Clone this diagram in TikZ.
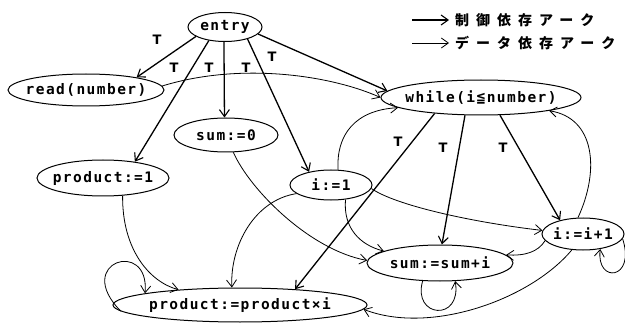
\documentclass[tikz,border=0pt]{standalone}
\usepackage{fontspec}
\usetikzlibrary{shapes.geometric,arrows.meta}
\newfontfamily\nodefont[LetterSpace=10]{DejaVu Sans Mono}
\newfontfamily\labfont{DejaVu Sans}
\newfontfamily\cjkfont[LetterSpace=50]{Noto Sans CJK JP}
\newcommand\ztx[1]{\makebox[0pt]{#1}}
\tikzset{
  nd/.style={ellipse, draw, line width=1pt, inner sep=0pt,
    font=\nodefont\bfseries\fontsize{14.5}{15}\selectfont},
  ctl/.style={line width=1.3pt, -{Straight Barb[length=7pt,width=10pt,line width=1.1pt]}},
  dat/.style={line width=0.8pt, -{Straight Barb[length=7pt,width=10pt,line width=0.8pt]}},
  tl/.style={font=\labfont\bfseries\fontsize{13}{13}\selectfont, inner sep=0pt},
  leg/.style={anchor=west, inner sep=0pt, font=\cjkfont\bfseries\fontsize{14}{14}\selectfont}
}
\begin{document}
\begin{tikzpicture}[x=1pt,y=-1pt]
\useasboundingbox (0,0) rectangle (625,329);
% nodes
\node[nd, minimum width=74, minimum height=29] (entry) at (225,27) {\ztx{entry}};
\node[nd, minimum width=156, minimum height=32] (read) at (86,90) {\ztx{read(number)}};
\node[nd, minimum width=104, minimum height=34] (sum0) at (226,135) {\ztx{sum:=0}};
\node[nd, minimum width=132, minimum height=36] (prod1) at (103,178) {\ztx{product:=1}};
\node[nd, minimum width=82, minimum height=30] (i1) at (331,185) {\ztx{i:=1}};
\node[nd, minimum width=200, minimum height=35] (while) at (481,97.5) {\ztx{while(i≦number)}};
\node[nd, minimum width=82, minimum height=32] (inc) at (583,234) {\ztx{i:=i+1}};
\node[nd, minimum width=146, minimum height=36] (sumi) at (440,263) {\ztx{sum:=sum+i}};
\node[nd, minimum width=254, minimum height=34] (prodi) at (240,305) {\ztx{product:=product×i}};
% legend
\coordinate (la1) at (412,20); \coordinate (lb1) at (449,20);
\coordinate (la2) at (412,43); \coordinate (lb2) at (449,43);
\draw[ctl] (la1) -- (lb1);
\draw[dat] (la2) -- (lb2);
\node[leg] (leg1) at (455,20) {制御依存アーク};
\node[leg] (leg2) at (455,43) {データ依存アーク};
% control edges
\draw[ctl] (entry.198) -- (read.14);
\draw[ctl] (entry.220) -- (prod1.27);
\draw[ctl] (entry.266) -- (sum0.95);
\draw[ctl] (entry.332) -- (i1.149);
\draw[ctl] (entry.348) -- (while.176);
\draw[ctl] (while.199) -- (prodi.16);
\draw[ctl] (while.228) -- (sumi.84);
\draw[ctl] (while.317) -- (inc.149);
% T labels
\node[tl] (t1) at (157,40) {T};
\node[tl] (t2) at (174,68) {T};
\node[tl] (t3) at (209,68) {T};
\node[tl] (t4) at (246,68) {T};
\node[tl] (t5) at (272,57) {T};
\node[tl] (t6) at (398,142) {T};
\node[tl] (t7) at (443,148) {T};
\node[tl] (t8) at (503,148) {T};
% data edges
\draw[dat] (read.3) .. controls (240,62) and (330,75) .. (while.180);
\draw[dat] (i1.65) .. controls (336,135) and (355,110) .. (while.187);
\draw[dat] (i1.355) .. controls (395,205) and (470,222) .. (inc.175);
\draw[dat] (i1.315) .. controls (343,228) and (360,245) .. (sumi.168);
\draw[dat] (i1.194) .. controls (255,200) and (230,245) .. (prodi.115);
\draw[dat] (sum0.293) .. controls (250,190) and (310,250) .. (sumi.178);
\draw[dat] (sumi.226) .. controls (412,318) and (462,322) .. (sumi.310);
\draw[dat] (inc.190) .. controls (538,252) and (525,256) .. (sumi.7);
\draw[dat] (inc.107) .. controls (600,170) and (595,118) .. (while.349);
\draw[dat] (inc.353) .. controls (636,280) and (596,284) .. (inc.319);
\draw[dat] (inc.235) .. controls (530,300) and (430,335) .. (prodi.358);
\draw[dat] (prod1.318) .. controls (122,250) and (150,282) .. (prodi.166);
\draw[dat] (prodi.183) .. controls (72,262) and (150,238) .. (prodi.173);
\end{tikzpicture}
\end{document}
